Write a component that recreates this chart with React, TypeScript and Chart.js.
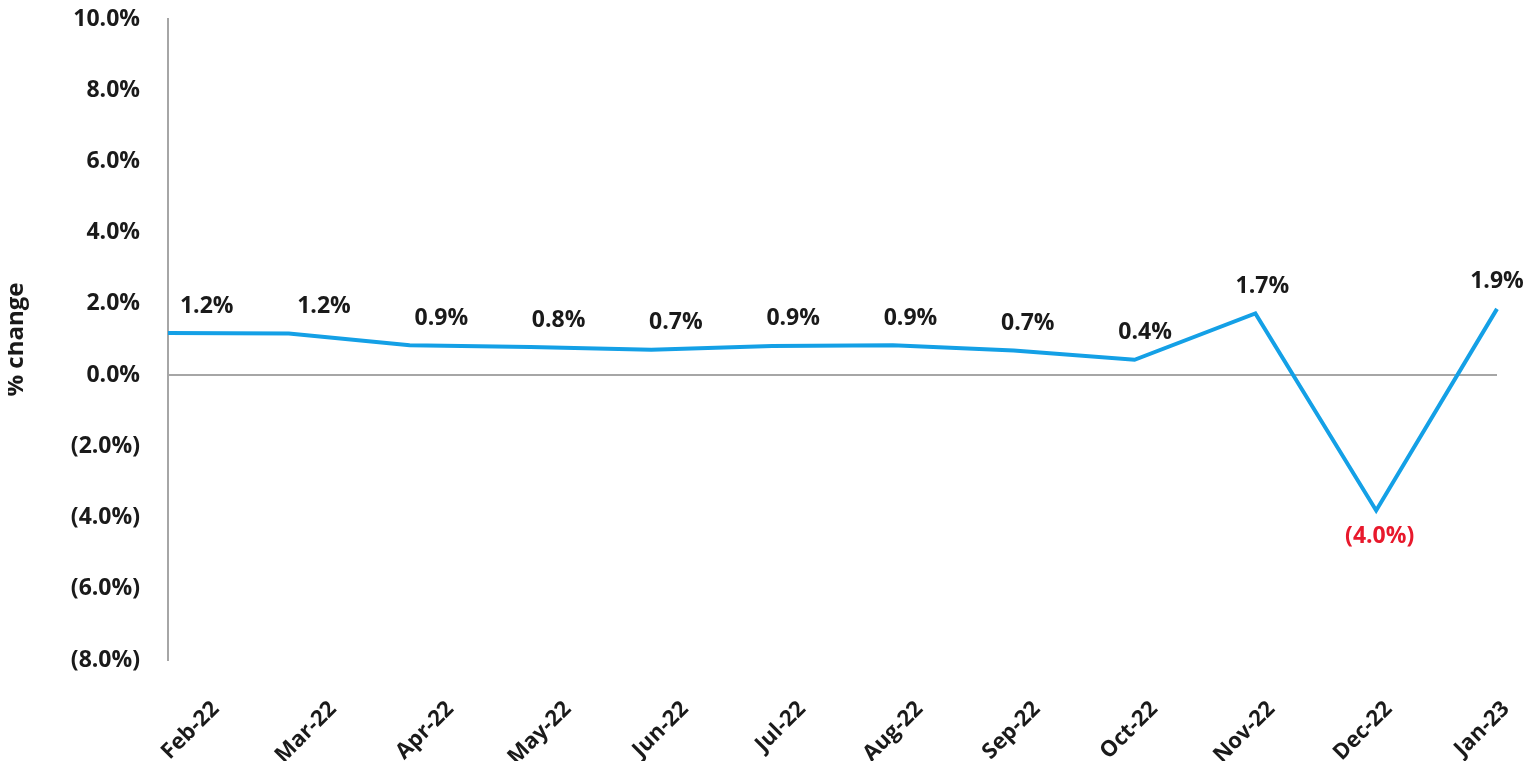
import React, { useEffect, useRef } from "react";
import { Chart, registerables } from "chart.js";

Chart.register(...registerables);

const categories = ["Feb-22", "Mar-22", "Apr-22", "May-22", "Jun-22", "Jul-22", "Aug-22", "Sep-22", "Oct-22", "Nov-22", "Dec-22", "Jan-23"];
const changeValues = [1.18, 1.17, 0.84, 0.79, 0.71, 0.82, 0.84, 0.69, 0.43, 1.73, -3.8, 1.86];
const pointLabels = ["1.2%", "1.2%", "0.9%", "0.8%", "0.7%", "0.9%", "0.9%", "0.7%", "0.4%", "1.7%", "(4.0%)", "1.9%"];
const yMin = -8;
const yMax = 10;
const yStep = 2;

const FONT = "'Open Sans', 'DejaVu Sans', sans-serif";
const TEXT = "#1a1a1a";
const RED = "#e8192c";
const BLUE = "#14a0e6";
const GREY = "#a6a6a6";

const formatPct = (v: number) => (v < 0 ? `(${Math.abs(v).toFixed(1)}%)` : `${v.toFixed(1)}%`);

const labelPlugin = {
  id: "pointLabels",
  afterDatasetsDraw(chart: any) {
    const ctx = chart.ctx;
    const meta = chart.getDatasetMeta(0);
    const x2 = chart.scales.x2;
    ctx.save();
    ctx.font = `bold 23px ${FONT}`;
    ctx.textAlign = "center";
    ctx.textBaseline = "middle";
    meta.data.forEach((pt: any, i: number) => {
      const v = changeValues[i];
      const x = x2.getPixelForValue(i);
      const y = v < 0 ? pt.y + 26 : pt.y - 27;
      ctx.fillStyle = v < 0 ? RED : TEXT;
      ctx.fillText(pointLabels[i], x, y);
    });
    ctx.restore();
  },
};

export default function App() {
  const ref = useRef<HTMLCanvasElement | null>(null);

  useEffect(() => {
    if (!ref.current) return;
    const chart = new Chart(ref.current, {
      type: "line",
      data: {
        labels: categories,
        datasets: [
          {
            data: changeValues,
            borderColor: BLUE,
            borderWidth: 4,
            pointRadius: 0,
            tension: 0,
            fill: false,
          },
        ],
      },
      options: {
        animation: false,
        responsive: true,
        maintainAspectRatio: false,
        layout: { padding: { left: 0, right: 31, top: 11, bottom: 0 } },
        plugins: { legend: { display: false }, tooltip: { enabled: false } },
        scales: {
          x: {
            type: "category",
            display: false,
            offset: false,
          },
          x2: {
            type: "linear",
            position: "bottom",
            min: -0.33,
            max: 11,
            grid: { display: false },
            border: { display: false },
            afterBuildTicks: (axis: any) => {
              axis.ticks = categories.map((_, i) => ({ value: i }));
            },
            afterFit: (scale: any) => {
              scale.height = 101;
              scale.paddingLeft = 0;
              scale.paddingRight = 0;
            },
            ticks: {
              autoSkip: false,
              minRotation: 45,
              maxRotation: 45,
              labelOffset: 9,
              padding: 28,
              color: TEXT,
              font: { family: FONT, size: 22, weight: "bold" },
              callback: (v: any) => categories[Math.round(Number(v))] ?? "",
            },
          },
          y: {
            min: yMin,
            max: yMax,
            grid: {
              drawTicks: false,
              lineWidth: 2,
              color: (c: any) => (c.tick && c.tick.value === 0 ? GREY : "rgba(0,0,0,0)"),
            },
            border: { display: true, color: GREY, width: 2 },
            afterFit: (scale: any) => {
              scale.width = 160;
              scale.paddingTop = 0;
              scale.paddingBottom = 0;
            },
            ticks: {
              stepSize: yStep,
              padding: 28,
              color: TEXT,
              font: { family: FONT, size: 23, weight: "bold" },
              callback: (v: any) => formatPct(Number(v)),
            },
            title: {
              display: true,
              text: "% change",
              color: TEXT,
              font: { family: FONT, size: 24, weight: "bold", lineHeight: 1 },
              padding: { top: -4, bottom: 0 },
            },
          },
        },
      },
      plugins: [labelPlugin],
    });
    return () => chart.destroy();
  }, []);

  return (
    <div style={{ position: "relative", height: 753 }}>
      <canvas ref={ref} />
    </div>
  );
}
